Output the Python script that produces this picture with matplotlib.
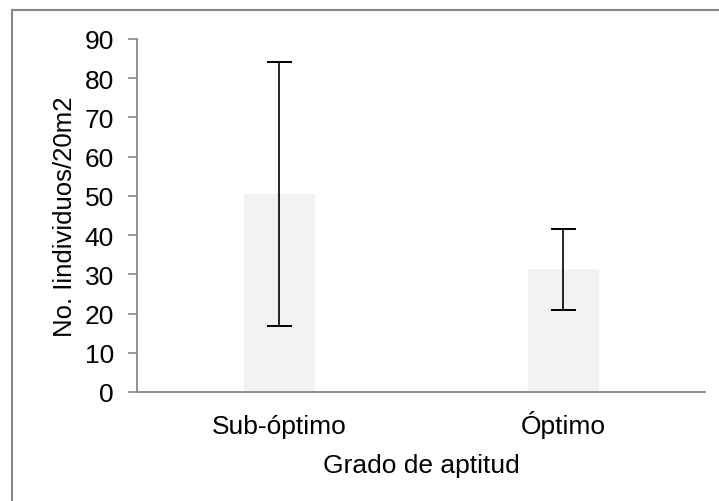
import numpy as np
import matplotlib
matplotlib.use('Agg')
import matplotlib.pyplot as plt
from matplotlib.patches import Rectangle

plt.rcParams['font.family'] = ['Liberation Sans', 'DejaVu Sans']

# data
categorias = ['Sub-óptimo', 'Óptimo']
medias = [50.5, 31.3]
errores = [33.6, 10.3]
yticks = np.arange(0, 91, 10)

W, H = 719, 502
fig = plt.figure(figsize=(W/100., H/100.), dpi=100)
ax = fig.add_axes([137./W, 1-393./H, (705.-137.)/W, (393.-40.)/H])

x = np.arange(len(categorias))
ax.bar(x, medias, width=0.25, color='#f2f2f2', zorder=1)
ax.errorbar(x, medias, yerr=errores, fmt='none', ecolor='black',
            elinewidth=1.2, capsize=9, capthick=1.4, zorder=3)

ax.set_xlim(-0.5, 1.5)
ax.set_ylim(0, 90)
ax.set_yticks(yticks)
ax.set_xticks(x)
ax.set_xticklabels(categorias, fontsize=19)
for lab in ax.get_xticklabels():
    lab.set_verticalalignment('baseline')
ax.tick_params(axis='y', labelsize=19, length=6.5, width=1.2, color='#888888', pad=10)
ax.tick_params(axis='x', length=0, pad=29.5)

for s in ['top', 'right']:
    ax.spines[s].set_visible(False)
for s in ['left', 'bottom']:
    ax.spines[s].set_color('#888888')
    ax.spines[s].set_linewidth(1.3)

ax.set_ylabel('No. Iindividuos/20m2', fontsize=18.5)
ax.yaxis.set_label_coords(-(137. - 77.) / 568., 0.5)
ax.set_xlabel('Grado de aptitud', fontsize=19, va='baseline')
ax.xaxis.set_label_coords(0.5, -(473. - 393.) / 353.)

# outer chart frame (runs off the right and bottom edges)
fig.patches.append(Rectangle((12./W, -0.1), 1.0, 1-11./H+0.1, transform=fig.transFigure,
                             fill=False, edgecolor='#888888', linewidth=1.5))

plt.savefig('out.png', dpi=100)
plt.close()
